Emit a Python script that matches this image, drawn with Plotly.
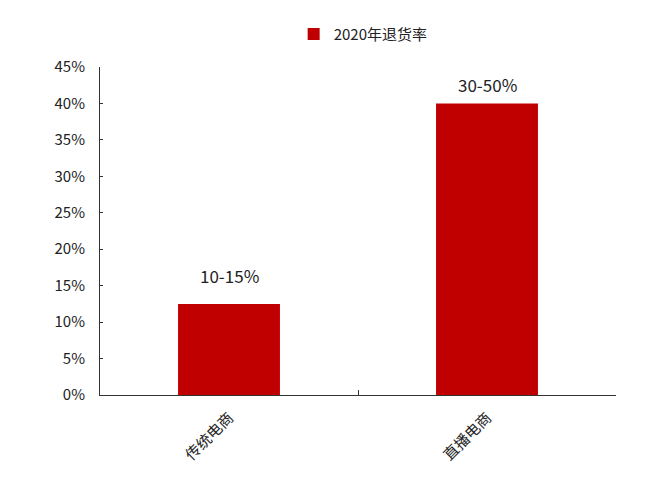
import plotly.graph_objects as go

categories = ["传统电商", "直播电商"]
values = [12.5, 40.0]
range_labels = ["10-15%", "30-50%"]
series_name = "2020年退货率"
y_ticks = [0, 5, 10, 15, 20, 25, 30, 35, 40, 45]
y_tick_labels = [f"{v}%" for v in y_ticks]

RED = "#C00000"
FONT = "Noto Sans CJK SC, Microsoft YaHei, sans-serif"

fig = go.Figure()
fig.add_trace(go.Bar(
    x=categories, y=values, name=series_name,
    marker=dict(color=RED, line=dict(width=0)),
    width=0.395, showlegend=True,
))

shifts = [14, 4]
for c, v, t, s in zip(categories, values, range_labels, shifts):
    fig.add_annotation(x=c, y=v, text=t, showarrow=False, yanchor="bottom",
                       yshift=s, font=dict(size=17, color="#222222", family=FONT))

fig.update_layout(
    width=644, height=466,
    margin=dict(l=92, r=36, t=59, b=79, autoexpand=False),
    paper_bgcolor="white", plot_bgcolor="white",
    font=dict(family=FONT, size=15, color="#333333"),
    legend=dict(orientation="h", x=0.51, xanchor="center", y=1.1, yanchor="middle",
                font=dict(size=15, color="#222222"), itemwidth=30),
    xaxis=dict(showline=True, linecolor="#333333", linewidth=1, ticks="inside",
               tickson="boundaries", ticklen=5, tickcolor="#333333",
               tickangle=-45, ticklabelstandoff=7, automargin=False,
               tickfont=dict(size=15, color="#222222"), showgrid=False),
    yaxis=dict(range=[0, 45], tickvals=y_ticks, ticktext=y_tick_labels,
               showline=True, linecolor="#333333", linewidth=1, ticks="inside",
               ticklen=3, tickcolor="#333333", showgrid=False, zeroline=False,
               ticklabelstandoff=11, automargin=False,
               tickfont=dict(size=15, color="#222222")),
)

fig.write_html("out.html")
